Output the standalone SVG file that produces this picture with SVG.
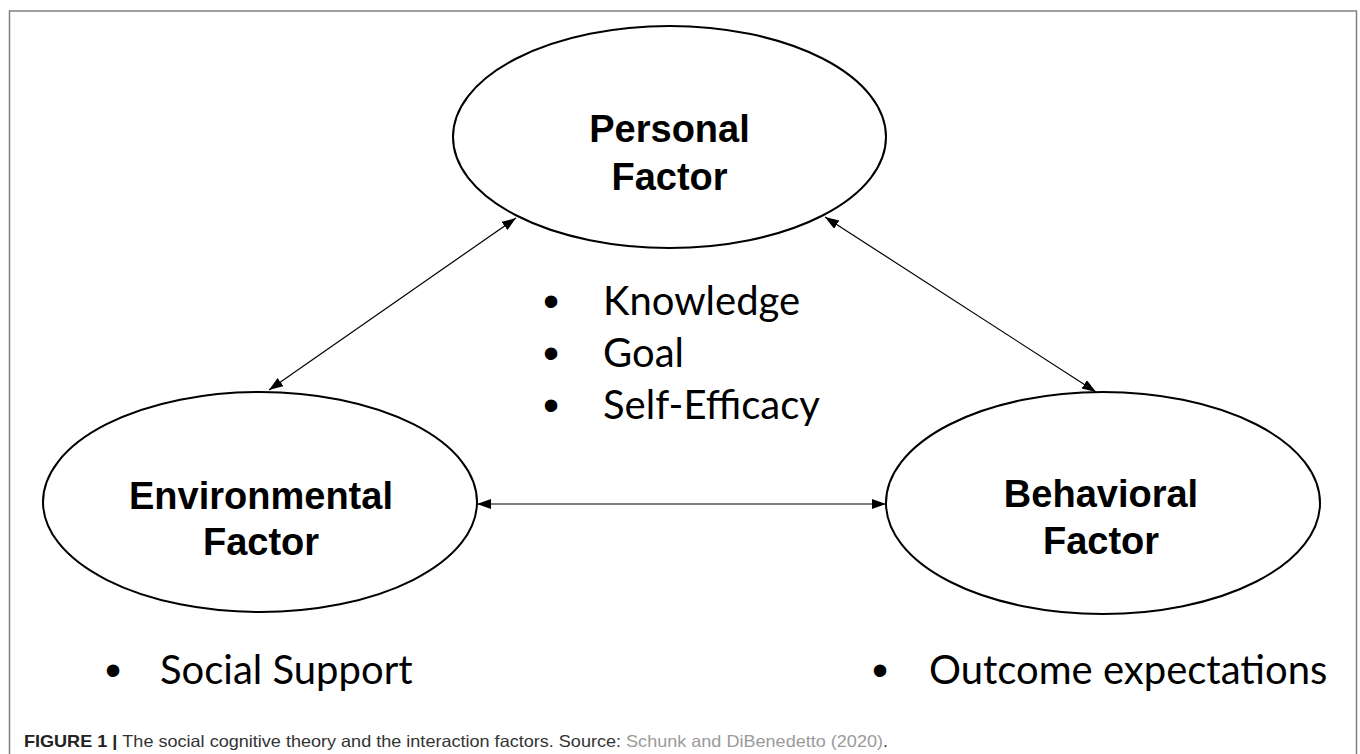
<svg xmlns="http://www.w3.org/2000/svg" width="1360" height="754" viewBox="0 0 1360 754">
<defs>
<marker id="ah" markerUnits="userSpaceOnUse" markerWidth="15" markerHeight="11" refX="14" refY="5" orient="auto-start-reverse" viewBox="0 0 15 11">
<path d="M0,0 L14,5 L0,10 z" fill="#000"/>
</marker>
<style>
.el{fill:#fff;stroke:#000;stroke-width:2}
.ttl{font-family:"Liberation Sans",Arial,sans-serif;font-weight:bold;font-size:38px;fill:#000;text-anchor:middle}
.bl{font-family:Lato,"Liberation Sans",sans-serif;font-size:40px;fill:#000}
.bu{font-family:"Liberation Sans",Arial,sans-serif;font-size:46px;fill:#000;text-anchor:middle}
.cn{stroke:#000;stroke-width:1.2;fill:none;marker-start:url(#ah);marker-end:url(#ah)}
.cap{font-family:"Liberation Sans",Arial,sans-serif;font-size:16.5px;fill:#333}
</style>
</defs>
<rect width="1360" height="754" fill="#fff"/>
<path d="M9.5,760 V11 H1356.5 V760" fill="none" stroke="#808080" stroke-width="1.5"/>

<g id="connectors">
<line class="cn" x1="516" y1="218" x2="269" y2="390"/>
<line class="cn" x1="825" y1="217" x2="1096" y2="392"/>
<line class="cn" x1="477" y1="504" x2="886" y2="504"/>
</g>

<g id="personal">
<ellipse class="el" cx="669.5" cy="137" rx="216.5" ry="111"/>
<text class="ttl" x="669.5" y="142">Personal</text>
<text class="ttl" x="669.5" y="190">Factor</text>
</g>

<g id="environmental">
<ellipse class="el" cx="260" cy="502" rx="217" ry="110"/>
<text class="ttl" x="261" y="509">Environmental</text>
<text class="ttl" x="261" y="555">Factor</text>
</g>

<g id="behavioral">
<ellipse class="el" cx="1103" cy="503" rx="217" ry="111"/>
<text class="ttl" x="1101" y="507">Behavioral</text>
<text class="ttl" x="1101" y="554">Factor</text>
</g>

<g id="personal-items">
<text class="bu" x="551" y="317">•</text>
<text class="bl" x="603" y="315">Knowledge</text>
<text class="bu" x="551" y="369">•</text>
<text class="bl" x="603" y="367">Goal</text>
<text class="bu" x="551" y="421">•</text>
<text class="bl" x="603" y="419">Self-Efficacy</text>
</g>

<g id="environmental-items">
<text class="bu" x="113" y="686">•</text>
<text class="bl" x="160" y="684">Social Support</text>
</g>

<g id="behavioral-items">
<text class="bu" x="880" y="686">•</text>
<text class="bl" x="929" y="684">Outcome expectations</text>
</g>

<g id="caption">
<text class="cap" x="24" y="747" textLength="864" lengthAdjust="spacingAndGlyphs"><tspan font-weight="bold" fill="#222">FIGURE 1 | </tspan>The social cognitive theory and the interaction factors. Source: <tspan fill="#9a9a9a">Schunk and DiBenedetto (2020)</tspan>.</text>
</g>
</svg>
